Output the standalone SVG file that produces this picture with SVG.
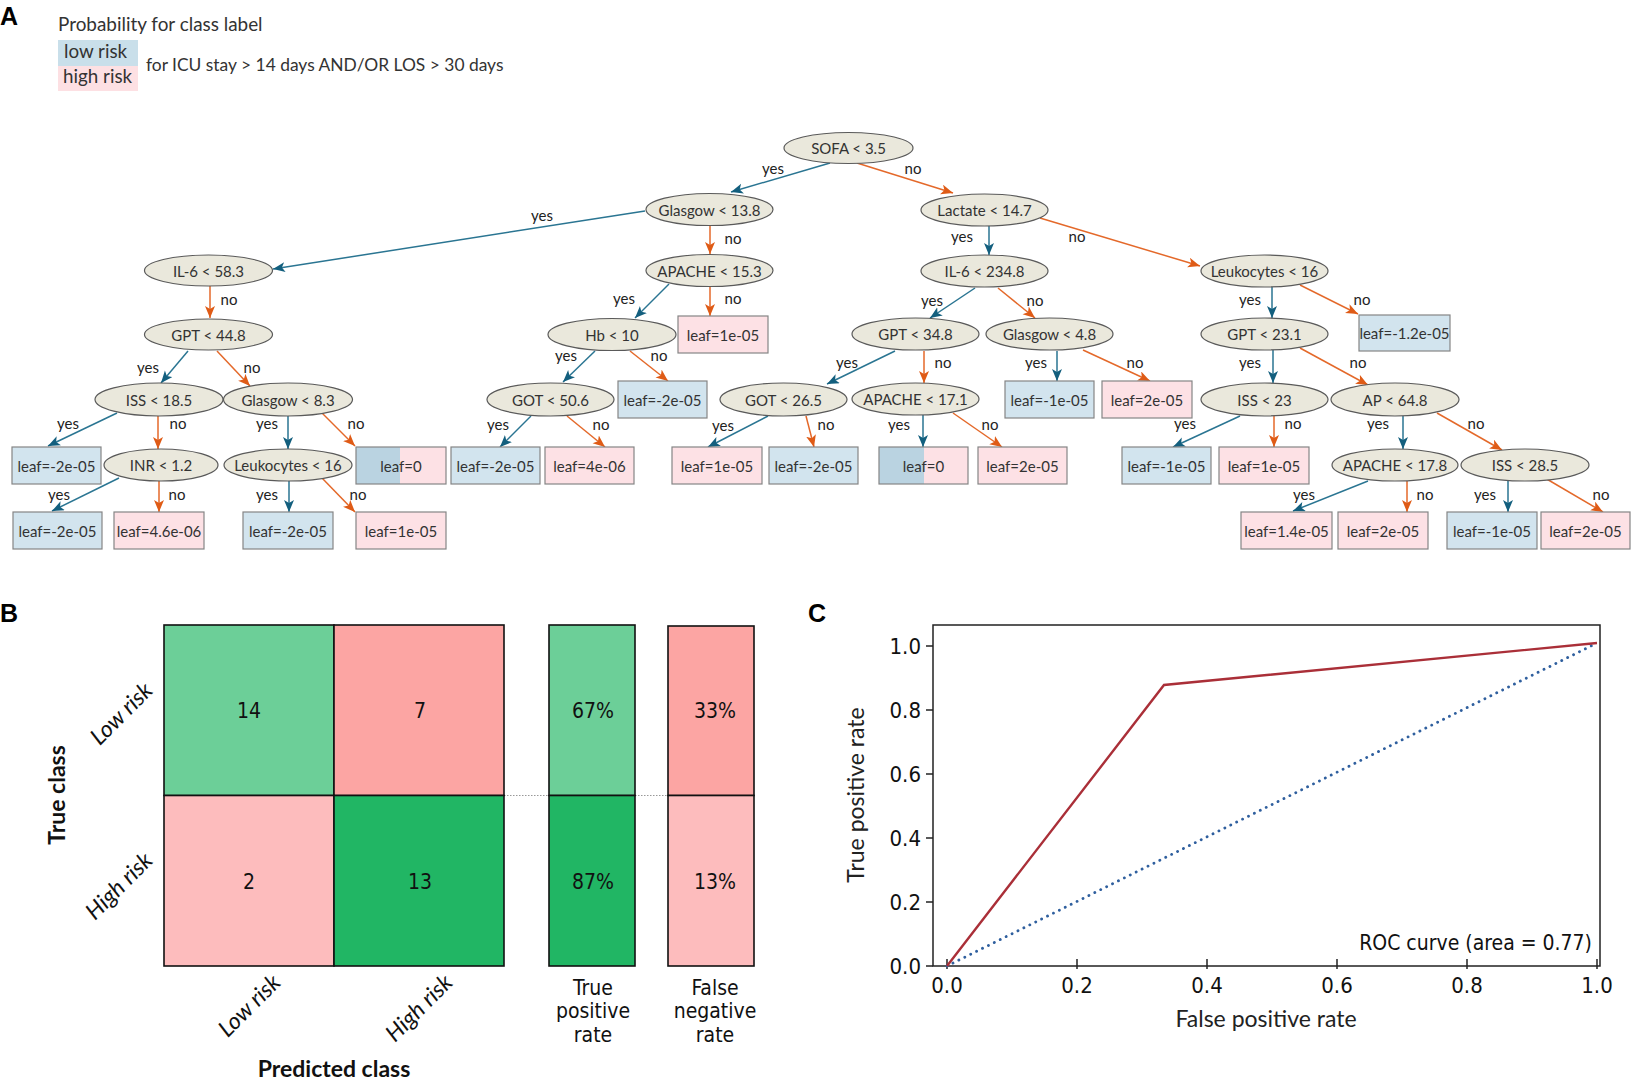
<svg xmlns="http://www.w3.org/2000/svg" width="1634" height="1082" viewBox="0 0 1634 1082">
<style>
.t{font-family:Lato,"Noto Sans",sans-serif;font-size:15px;fill:#333;text-anchor:middle;dominant-baseline:central}
.el{fill:#eae8dc;stroke:#5a5a5a;stroke-width:1.2}
.lb{fill:#d2e4ee;stroke:#858585;stroke-width:1.2}
.lp{fill:#fde1e5;stroke:#858585;stroke-width:1.2}
.y{stroke:#2a7592;stroke-width:1.5;fill:none;marker-end:url(#ay)}
.n{stroke:#e4692a;stroke-width:1.5;fill:none;marker-end:url(#an)}
.el2{font-family:Lato,"Noto Sans",sans-serif;font-size:15px;fill:#222;text-anchor:middle;dominant-baseline:central}
.cond{font-family:"DejaVu Sans Condensed","Liberation Sans",sans-serif;font-stretch:condensed;fill:#111}
.pl{font-family:"Liberation Sans",Arial,sans-serif;font-weight:bold;font-size:25px;fill:#000}
.ax{font-family:Lato,"Noto Sans",sans-serif;font-size:23px;fill:#222;text-anchor:middle}
.bold{font-family:Lato,"Noto Sans",sans-serif;font-weight:bold;font-size:23px;fill:#111;text-anchor:middle}
.it{font-family:Lato,"Noto Sans",sans-serif;font-style:italic;font-size:23px;fill:#111;text-anchor:end}
.cell{stroke:#111;stroke-width:1.6}
</style>
<defs>
<marker id="ay" markerUnits="userSpaceOnUse" markerWidth="14" markerHeight="12" refX="12" refY="5" orient="auto"><path d="M0,0 L12,5 L0,10 L3,5 Z" fill="#135f7e"/></marker>
<marker id="an" markerUnits="userSpaceOnUse" markerWidth="14" markerHeight="12" refX="12" refY="5" orient="auto"><path d="M0,0 L12,5 L0,10 L3,5 Z" fill="#df5b16"/></marker>
</defs>
<rect width="1634" height="1082" fill="#fff"/>

<!-- Panel A legend -->
<text class="pl" x="0" y="25">A</text>
<g id="legend" font-family="Lato,'Noto Sans',sans-serif" fill="#333">
<text x="58" y="31" font-size="18.9">Probability for class label</text>
<rect x="58" y="40" width="80" height="26" fill="#c9dfea"/>
<rect x="58" y="66" width="80" height="25" fill="#fde0e3"/>
<text x="64" y="58" font-size="18.8">low risk</text>
<text x="63" y="83" font-size="18.8">high risk</text>
<text x="146" y="71" font-size="17.4">for ICU stay &gt; 14 days AND/OR LOS &gt; 30 days</text>
</g>

<!-- connectors -->
<g id="connectors">
<line class="y" x1="830" y1="163" x2="731" y2="192"/>
<line class="n" x1="857" y1="163" x2="953" y2="193"/>
<line class="y" x1="645" y1="211" x2="273" y2="269"/>
<line class="n" x1="710" y1="226" x2="710" y2="254"/>
<line class="y" x1="989" y1="226" x2="989" y2="255"/>
<line class="n" x1="1040" y1="218" x2="1200" y2="266"/>
<line class="n" x1="210" y1="286" x2="210" y2="318"/>
<line class="y" x1="669" y1="284" x2="635" y2="318"/>
<line class="n" x1="710" y1="287" x2="710" y2="316"/>
<line class="y" x1="975" y1="288" x2="930" y2="318"/>
<line class="n" x1="998" y1="288" x2="1035" y2="318"/>
<line class="y" x1="1272" y1="287" x2="1272" y2="318"/>
<line class="n" x1="1300" y1="285" x2="1358" y2="314"/>
<line class="y" x1="188" y1="351" x2="161" y2="383"/>
<line class="n" x1="217" y1="351" x2="250" y2="386"/>
<line class="y" x1="595" y1="351" x2="563" y2="382"/>
<line class="n" x1="630" y1="351" x2="668" y2="381"/>
<line class="y" x1="895" y1="351" x2="827" y2="384"/>
<line class="n" x1="924" y1="351" x2="924" y2="383"/>
<line class="y" x1="1057" y1="351" x2="1057" y2="381"/>
<line class="n" x1="1083" y1="350" x2="1150" y2="381"/>
<line class="y" x1="1273" y1="350" x2="1273" y2="383"/>
<line class="n" x1="1300" y1="348" x2="1368" y2="385"/>
<line class="y" x1="117" y1="413" x2="48" y2="446"/>
<line class="n" x1="158" y1="416" x2="158" y2="449"/>
<line class="y" x1="288" y1="416" x2="288" y2="449"/>
<line class="n" x1="322" y1="413" x2="355" y2="446"/>
<line class="y" x1="531" y1="416" x2="500" y2="447"/>
<line class="n" x1="567" y1="416" x2="605" y2="447"/>
<line class="y" x1="768" y1="416" x2="708" y2="447"/>
<line class="n" x1="806" y1="416" x2="814" y2="447"/>
<line class="y" x1="923" y1="415" x2="923" y2="447"/>
<line class="n" x1="953" y1="413" x2="1002" y2="447"/>
<line class="y" x1="1240" y1="416" x2="1173" y2="447"/>
<line class="n" x1="1274" y1="416" x2="1274" y2="447"/>
<line class="y" x1="1403" y1="416" x2="1403" y2="449"/>
<line class="n" x1="1437" y1="413" x2="1502" y2="450"/>
<line class="y" x1="119" y1="478" x2="52" y2="511"/>
<line class="n" x1="159" y1="481" x2="159" y2="512"/>
<line class="y" x1="289" y1="481" x2="289" y2="512"/>
<line class="n" x1="322" y1="478" x2="355" y2="512"/>
<line class="y" x1="1368" y1="481" x2="1293" y2="511"/>
<line class="n" x1="1407" y1="481" x2="1407" y2="512"/>
<line class="y" x1="1508" y1="481" x2="1508" y2="512"/>
<line class="n" x1="1545" y1="478" x2="1603" y2="512"/>
<g class="el2">
<text x="773" y="168">yes</text><text x="913" y="168">no</text>
<text x="542" y="215">yes</text><text x="733" y="238">no</text>
<text x="962" y="236">yes</text><text x="1077" y="236">no</text>
<text x="229" y="299">no</text><text x="624" y="298">yes</text><text x="733" y="298">no</text>
<text x="932" y="300">yes</text><text x="1035" y="300">no</text>
<text x="1250" y="299">yes</text><text x="1362" y="299">no</text>
<text x="148" y="367">yes</text><text x="252" y="367">no</text>
<text x="566" y="355">yes</text><text x="659" y="355">no</text>
<text x="847" y="362">yes</text><text x="943" y="362">no</text>
<text x="1036" y="362">yes</text><text x="1135" y="362">no</text>
<text x="1250" y="362">yes</text><text x="1358" y="362">no</text>
<text x="68" y="423">yes</text><text x="178" y="423">no</text>
<text x="267" y="423">yes</text><text x="356" y="423">no</text>
<text x="498" y="424">yes</text><text x="601" y="424">no</text>
<text x="723" y="425">yes</text><text x="826" y="424">no</text>
<text x="899" y="424">yes</text><text x="990" y="424">no</text>
<text x="1185" y="423">yes</text><text x="1293" y="423">no</text>
<text x="1378" y="423">yes</text><text x="1476" y="423">no</text>
<text x="59" y="494">yes</text><text x="177" y="494">no</text>
<text x="267" y="494">yes</text><text x="358" y="494">no</text>
<text x="1304" y="494">yes</text><text x="1425" y="494">no</text>
<text x="1485" y="494">yes</text><text x="1601" y="494">no</text>
</g>
</g>

<!-- decision nodes -->
<g id="n1"><ellipse class="el" cx="848.5" cy="148" rx="64.5" ry="15.5"/><text class="t" x="848.5" y="148">SOFA &lt; 3.5</text></g>
<g id="n2"><ellipse class="el" cx="709.5" cy="209.5" rx="63.5" ry="16"/><text class="t" x="709.5" y="209.5">Glasgow &lt; 13.8</text></g>
<g id="n3"><ellipse class="el" cx="984.5" cy="210" rx="63.5" ry="16"/><text class="t" x="984.5" y="210">Lactate &lt; 14.7</text></g>
<g id="n4"><ellipse class="el" cx="208.5" cy="270.5" rx="64" ry="15.5"/><text class="t" x="208.5" y="270.5">IL-6 &lt; 58.3</text></g>
<g id="n5"><ellipse class="el" cx="709.5" cy="270.5" rx="63.5" ry="16"/><text class="t" x="709.5" y="270.5">APACHE &lt; 15.3</text></g>
<g id="n6"><ellipse class="el" cx="984.5" cy="271" rx="63.5" ry="16"/><text class="t" x="984.5" y="271">IL-6 &lt; 234.8</text></g>
<g id="n7"><ellipse class="el" cx="1264.5" cy="271" rx="63.5" ry="16"/><text class="t" x="1264.5" y="271">Leukocytes &lt; 16</text></g>
<g id="n8"><ellipse class="el" cx="208.5" cy="334.5" rx="64" ry="15.5"/><text class="t" x="208.5" y="334.5">GPT &lt; 44.8</text></g>
<g id="n9"><ellipse class="el" cx="612" cy="334.5" rx="64" ry="16"/><text class="t" x="612" y="334.5">Hb &lt; 10</text></g>
<g id="n10"><ellipse class="el" cx="915.5" cy="334" rx="63.5" ry="16"/><text class="t" x="915.5" y="334">GPT &lt; 34.8</text></g>
<g id="n11"><ellipse class="el" cx="1049.5" cy="334" rx="63.5" ry="16"/><text class="t" x="1049.5" y="334">Glasgow &lt; 4.8</text></g>
<g id="n12"><ellipse class="el" cx="1264.5" cy="334" rx="63.5" ry="16"/><text class="t" x="1264.5" y="334">GPT &lt; 23.1</text></g>
<g id="n13"><ellipse class="el" cx="159" cy="399.5" rx="64" ry="16.5"/><text class="t" x="159" y="399.5">ISS &lt; 18.5</text></g>
<g id="n14"><ellipse class="el" cx="288" cy="399.5" rx="64.5" ry="16.5"/><text class="t" x="288" y="399.5">Glasgow &lt; 8.3</text></g>
<g id="n15"><ellipse class="el" cx="550.5" cy="399.5" rx="63.5" ry="16.5"/><text class="t" x="550.5" y="399.5">GOT &lt; 50.6</text></g>
<g id="n16"><ellipse class="el" cx="783.5" cy="399.5" rx="63.5" ry="16.5"/><text class="t" x="783.5" y="399.5">GOT &lt; 26.5</text></g>
<g id="n17"><ellipse class="el" cx="915.5" cy="399" rx="63.5" ry="16"/><text class="t" x="915.5" y="399">APACHE &lt; 17.1</text></g>
<g id="n18"><ellipse class="el" cx="1264.5" cy="399.5" rx="63.5" ry="16.5"/><text class="t" x="1264.5" y="399.5">ISS &lt; 23</text></g>
<g id="n19"><ellipse class="el" cx="1395" cy="399.5" rx="64" ry="16.5"/><text class="t" x="1395" y="399.5">AP &lt; 64.8</text></g>
<g id="n20"><ellipse class="el" cx="161" cy="465" rx="57" ry="16"/><text class="t" x="161" y="465">INR &lt; 1.2</text></g>
<g id="n21"><ellipse class="el" cx="288" cy="465" rx="64" ry="16"/><text class="t" x="288" y="465">Leukocytes &lt; 16</text></g>
<g id="n22"><ellipse class="el" cx="1395" cy="465" rx="63" ry="16"/><text class="t" x="1395" y="465">APACHE &lt; 17.8</text></g>
<g id="n23"><ellipse class="el" cx="1525" cy="465" rx="64" ry="16"/><text class="t" x="1525" y="465">ISS &lt; 28.5</text></g>

<!-- leaves -->
<g id="l1"><rect class="lp" x="678" y="316" width="90" height="37"/><text class="t" x="723" y="334.5">leaf=1e-05</text></g>
<g id="l2"><rect class="lb" x="1359" y="315" width="91" height="36"/><text class="t" x="1404.5" y="333">leaf=-1.2e-05</text></g>
<g id="l3"><rect class="lb" x="618" y="381" width="89" height="37"/><text class="t" x="662.5" y="399.5">leaf=-2e-05</text></g>
<g id="l4"><rect class="lb" x="1005" y="381" width="89" height="37"/><text class="t" x="1049.5" y="399.5">leaf=-1e-05</text></g>
<g id="l5"><rect class="lp" x="1102" y="381" width="90" height="37"/><text class="t" x="1147" y="399.5">leaf=2e-05</text></g>
<g id="l6"><rect class="lb" x="12" y="447" width="89" height="37"/><text class="t" x="56.5" y="465.5">leaf=-2e-05</text></g>
<g id="l7"><rect x="356" y="447" width="44" height="37" fill="#bad3e1"/><rect x="400" y="447" width="46" height="37" fill="#fde1e5"/><rect x="356" y="447" width="90" height="37" fill="none" stroke="#858585" stroke-width="1.2"/><text class="t" x="401" y="465.5">leaf=0</text></g>
<g id="l8"><rect class="lb" x="451" y="447" width="89" height="37"/><text class="t" x="495.5" y="465.5">leaf=-2e-05</text></g>
<g id="l9"><rect class="lp" x="545" y="447" width="89" height="37"/><text class="t" x="589.5" y="465.5">leaf=4e-06</text></g>
<g id="l10"><rect class="lp" x="672" y="447" width="90" height="37"/><text class="t" x="717" y="465.5">leaf=1e-05</text></g>
<g id="l11"><rect class="lb" x="769" y="447" width="89" height="37"/><text class="t" x="813.5" y="465.5">leaf=-2e-05</text></g>
<g id="l12"><rect x="879" y="447" width="45" height="37" fill="#bad3e1"/><rect x="924" y="447" width="44" height="37" fill="#fde1e5"/><rect x="879" y="447" width="89" height="37" fill="none" stroke="#858585" stroke-width="1.2"/><text class="t" x="923.5" y="465.5">leaf=0</text></g>
<g id="l13"><rect class="lp" x="978" y="447" width="89" height="37"/><text class="t" x="1022.5" y="465.5">leaf=2e-05</text></g>
<g id="l14"><rect class="lb" x="1122" y="447" width="89" height="37"/><text class="t" x="1166.5" y="465.5">leaf=-1e-05</text></g>
<g id="l15"><rect class="lp" x="1219" y="447" width="90" height="37"/><text class="t" x="1264" y="465.5">leaf=1e-05</text></g>
<g id="l16"><rect class="lb" x="13" y="512" width="89" height="37"/><text class="t" x="57.5" y="530.5">leaf=-2e-05</text></g>
<g id="l17"><rect class="lp" x="114" y="512" width="90" height="37"/><text class="t" x="159" y="530.5">leaf=4.6e-06</text></g>
<g id="l18"><rect class="lb" x="243" y="512" width="90" height="37"/><text class="t" x="288" y="530.5">leaf=-2e-05</text></g>
<g id="l19"><rect class="lp" x="356" y="512" width="90" height="37"/><text class="t" x="401" y="530.5">leaf=1e-05</text></g>
<g id="l20"><rect class="lp" x="1241" y="512" width="91" height="37"/><text class="t" x="1286.5" y="530.5">leaf=1.4e-05</text></g>
<g id="l21"><rect class="lp" x="1338" y="512" width="90" height="37"/><text class="t" x="1383" y="530.5">leaf=2e-05</text></g>
<g id="l22"><rect class="lb" x="1447" y="512" width="90" height="37"/><text class="t" x="1492" y="530.5">leaf=-1e-05</text></g>
<g id="l23"><rect class="lp" x="1541" y="512" width="89" height="37"/><text class="t" x="1585.5" y="530.5">leaf=2e-05</text></g>

<!-- Panel B -->
<text class="pl" x="0" y="622">B</text>
<g id="matrix">
<line x1="504" y1="795.5" x2="549" y2="795.5" stroke="#999" stroke-width="1" stroke-dasharray="1.5,1.5"/>
<line x1="635" y1="795.5" x2="668" y2="795.5" stroke="#999" stroke-width="1" stroke-dasharray="1.5,1.5"/>
<rect class="cell" x="164" y="625" width="170" height="170.5" fill="#6ccf98"/>
<rect class="cell" x="334" y="625" width="170" height="170.5" fill="#fca5a3"/>
<rect class="cell" x="164" y="795.5" width="170" height="170.5" fill="#fdbcbd"/>
<rect class="cell" x="334" y="795.5" width="170" height="170.5" fill="#21b664"/>
<rect class="cell" x="549" y="625" width="86" height="170.5" fill="#6ccf98"/>
<rect class="cell" x="549" y="795.5" width="86" height="170.5" fill="#21b664"/>
<rect class="cell" x="668" y="626" width="86" height="169.5" fill="#fca5a3"/>
<rect class="cell" x="668" y="795.5" width="86" height="170.5" fill="#fdbcbd"/>
<g class="cond" font-size="21" text-anchor="middle">
<text x="249" y="718">14</text><text x="420" y="718">7</text>
<text x="249" y="889">2</text><text x="420" y="889">13</text>
<text x="593" y="718">67%</text><text x="715" y="718">33%</text>
<text x="593" y="889">87%</text><text x="715" y="889">13%</text>
<text x="593" y="995">True</text><text x="593" y="1018">positive</text><text x="593" y="1042">rate</text>
<text x="715" y="995">False</text><text x="715" y="1018">negative</text><text x="715" y="1042">rate</text>
</g>
<text class="it" transform="translate(154,692) rotate(-45)">Low risk</text>
<text class="it" transform="translate(154,862) rotate(-45)">High risk</text>
<text class="it" transform="translate(282,984) rotate(-45)">Low risk</text>
<text class="it" transform="translate(454,984) rotate(-45)">High risk</text>
<text class="bold" transform="translate(65,795) rotate(-90)">True class</text>
<text class="bold" x="334" y="1077">Predicted class</text>
</g>

<!-- Panel C -->
<text class="pl" x="808" y="622">C</text>
<g id="roc">
<rect x="933" y="625" width="667" height="341" fill="none" stroke="#222" stroke-width="1.5"/>
<g stroke="#222" stroke-width="1.5">
<line x1="926" y1="966" x2="933" y2="966"/><line x1="926" y1="902" x2="933" y2="902"/><line x1="926" y1="838" x2="933" y2="838"/><line x1="926" y1="774" x2="933" y2="774"/><line x1="926" y1="710" x2="933" y2="710"/><line x1="926" y1="646" x2="933" y2="646"/>
<line x1="947" y1="959" x2="947" y2="969"/><line x1="1077" y1="959" x2="1077" y2="969"/><line x1="1207" y1="959" x2="1207" y2="969"/><line x1="1337" y1="959" x2="1337" y2="969"/><line x1="1467" y1="959" x2="1467" y2="969"/><line x1="1597" y1="959" x2="1597" y2="969"/>
</g>
<g class="cond" font-size="22" text-anchor="end">
<text x="921" y="974">0.0</text><text x="921" y="910">0.2</text><text x="921" y="846">0.4</text><text x="921" y="782">0.6</text><text x="921" y="718">0.8</text><text x="921" y="654">1.0</text>
</g>
<g class="cond" font-size="22" text-anchor="middle">
<text x="947" y="993">0.0</text><text x="1077" y="993">0.2</text><text x="1207" y="993">0.4</text><text x="1337" y="993">0.6</text><text x="1467" y="993">0.8</text><text x="1597" y="993">1.0</text>
</g>
<line x1="947" y1="966" x2="1597" y2="643" stroke="#2f5f9e" stroke-width="2.8" stroke-dasharray="0.1,6.5" stroke-linecap="round"/>
<polyline points="947,966 1164,685 1597,643" fill="none" stroke="#aa2f38" stroke-width="2.4"/>
<text class="cond" font-size="21" x="1592" y="950" text-anchor="end">ROC curve (area = 0.77)</text>
<text class="ax" x="1266" y="1027">False positive rate</text>
<text class="ax" transform="translate(864,795) rotate(-90)">True positive rate</text>
</g>
</svg>
